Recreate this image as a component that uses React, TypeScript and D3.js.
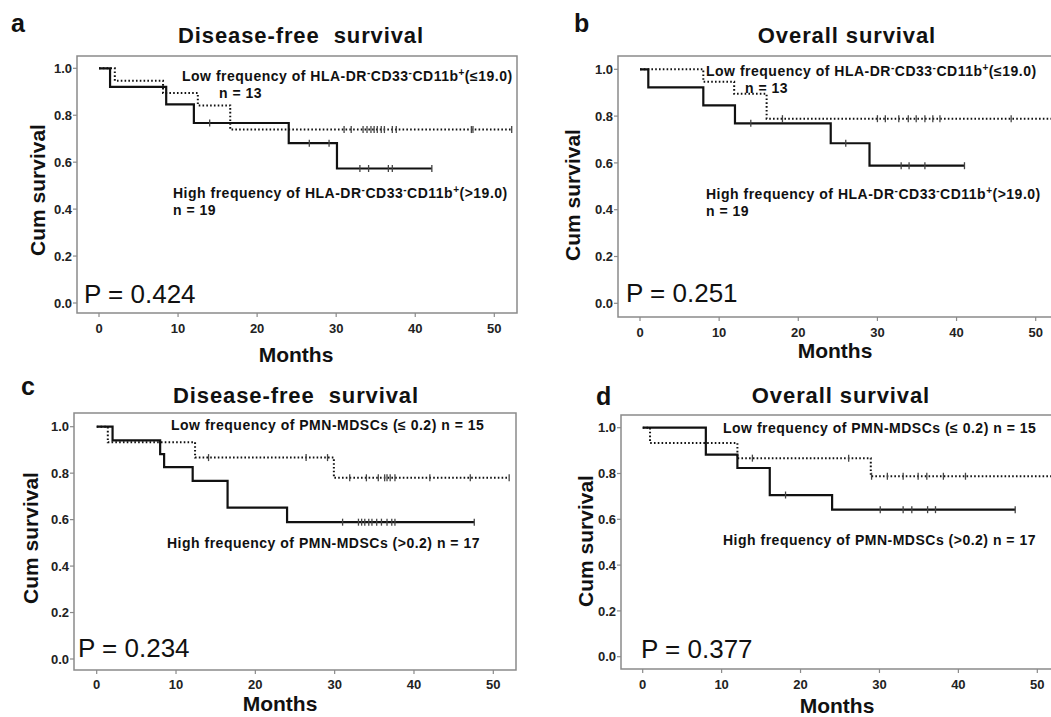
import React from "react";
import * as d3 from "d3";

// ---------- data ----------
const monthTicks = [0, 10, 20, 30, 40, 50];
const survTicks = [0, 0.2, 0.4, 0.6, 0.8, 1.0];

// panel a – Disease-free survival (HLA-DR-CD33-CD11b+)
const aSolidTimes = [1.4, 8.5, 12.0, 24.0, 30.1];
const aSolidSurv = [0.921, 0.846, 0.767, 0.681, 0.573];
const aSolidCensor = [14.0, 26.6, 29.1, 33.0, 34.1, 36.6, 37.1, 42.1];
const aSolidEnd = 42.1;
const aDotTimes = [2.0, 8.1, 12.5, 16.6];
const aDotSurv = [0.947, 0.895, 0.842, 0.739];
const aDotCensor = [31.0, 31.9, 33.4, 33.9, 34.4, 34.8, 35.2, 35.7, 36.1, 37.1, 37.6, 47.1, 47.3, 52.2];
const aDotEnd = 52.2;

// panel b – Overall survival (HLA-DR-CD33-CD11b+)
const bSolidTimes = [1.05, 8.0, 12.0, 24.1, 29.0];
const bSolidSurv = [0.923, 0.846, 0.769, 0.684, 0.588];
const bSolidCensor = [14.0, 26.0, 33.0, 34.0, 36.0, 41.0];
const bSolidEnd = 41.0;
const bDotTimes = [8.0, 11.9, 16.0];
const bDotSurv = [0.947, 0.895, 0.789];
const bDotCensor = [18.0, 30.0, 31.0, 32.7, 33.9, 34.9, 36.0, 37.0, 37.9, 46.9, 52.5];
const bDotEnd = 52.5;

// panel c – Disease-free survival (PMN-MDSCs)
const cSolidTimes = [2.0, 8.0, 8.5, 12.1, 16.5, 24.0];
const cSolidSurv = [0.941, 0.882, 0.826, 0.767, 0.652, 0.589];
const cSolidCensor = [31.0, 33.0, 33.4, 33.8, 34.3, 34.7, 35.3, 35.9, 36.6, 37.2, 37.6, 47.6];
const cSolidEnd = 47.6;
const cDotTimes = [1.4, 12.4, 29.9];
const cDotSurv = [0.933, 0.867, 0.78];
const cDotCensor = [14.1, 26.4, 29.1, 31.9, 34.0, 35.5, 36.3, 36.6, 37.0, 37.6, 42.0, 47.1, 52.0];
const cDotEnd = 52.0;

// panel d – Overall survival (PMN-MDSCs)
const dSolidTimes = [8.0, 12.0, 16.1, 24.0];
const dSolidSurv = [0.882, 0.824, 0.706, 0.642];
const dSolidCensor = [18.1, 30.1, 33.0, 34.1, 36.1, 37.1, 47.2];
const dSolidEnd = 47.2;
const dDotTimes = [0.93, 12.0, 28.9];
const dDotSurv = [0.933, 0.867, 0.788];
const dDotCensor = [13.9, 26.1, 29.0, 31.0, 33.0, 34.9, 36.0, 38.1, 40.9, 53.0];
const dDotEnd = 53.0;

const hlaLow: [string, boolean][] = [["Low frequency of HLA-DR", false], ["-", true], ["CD33", false], ["-", true], ["CD11b", false], ["+", true], ["(\u226419.0)", false]];
const hlaHigh: [string, boolean][] = [["High frequency of HLA-DR", false], ["-", true], ["CD33", false], ["-", true], ["CD11b", false], ["+", true], ["(>19.0)", false]];
const pmnLow: [string, boolean][] = [["Low frequency of PMN-MDSCs (\u2264 0.2) n = 15", false]];
const pmnHigh: [string, boolean][] = [["High frequency of PMN-MDSCs (>0.2) n = 17", false]];

// ---------- layout ----------
type Curve = { times: number[]; surv: number[]; censor: number[]; end: number; dotted: boolean };
type Label = { x: number; y: number; parts: [string, boolean][] };
type Panel = {
  letter: string; lx: number; ly: number;
  title: string; tx: number; ty: number;
  frame: { l: number; t: number; r: number; b: number };
  x0: number; x50: number; y1: number; y0: number;
  curves: Curve[];
  labels: Label[];
  p: string; px: number; py: number;
  ylx: number; yly: number;
  mx: number; my: number; tickDy: number;
};

const panels: Panel[] = [
  {
    letter: "a", lx: 11, ly: 32, title: "Disease-free  survival", tx: 301, ty: 43,
    frame: { l: 77, t: 56, r: 517, b: 313 }, x0: 99, x50: 494.3, y1: 68.3, y0: 303,
    curves: [
      { times: aDotTimes, surv: aDotSurv, censor: aDotCensor, end: aDotEnd, dotted: true },
      { times: aSolidTimes, surv: aSolidSurv, censor: aSolidCensor, end: aSolidEnd, dotted: false },
    ],
    labels: [
      { x: 182, y: 81, parts: hlaLow },
      { x: 219, y: 98, parts: [["n = 13", false]] },
      { x: 173, y: 198, parts: hlaHigh },
      { x: 173, y: 215, parts: [["n = 19", false]] },
    ],
    p: "P = 0.424", px: 84, py: 303, ylx: 37, yly: 190, mx: 296, my: 362, tickDy: 20,
  },
  {
    letter: "b", lx: 574, ly: 32, title: "Overall survival", tx: 847, ty: 43,
    frame: { l: 618, t: 56, r: 1062, b: 317 }, x0: 640, x50: 1035.7, y1: 69.3, y0: 303.3,
    curves: [
      { times: bDotTimes, surv: bDotSurv, censor: bDotCensor, end: bDotEnd, dotted: true },
      { times: bSolidTimes, surv: bSolidSurv, censor: bSolidCensor, end: bSolidEnd, dotted: false },
    ],
    labels: [
      { x: 706, y: 76, parts: hlaLow },
      { x: 745, y: 93, parts: [["n = 13", false]] },
      { x: 706, y: 199, parts: hlaHigh },
      { x: 706, y: 216, parts: [["n = 19", false]] },
    ],
    p: "P = 0.251", px: 626, py: 302, ylx: 572, yly: 195, mx: 835, my: 358, tickDy: 20,
  },
  {
    letter: "c", lx: 21, ly: 395, title: "Disease-free  survival", tx: 296, ty: 403,
    frame: { l: 74, t: 413, r: 516, b: 670 }, x0: 96.7, x50: 493.3, y1: 426.7, y0: 659,
    curves: [
      { times: cDotTimes, surv: cDotSurv, censor: cDotCensor, end: cDotEnd, dotted: true },
      { times: cSolidTimes, surv: cSolidSurv, censor: cSolidCensor, end: cSolidEnd, dotted: false },
    ],
    labels: [
      { x: 171, y: 430, parts: pmnLow },
      { x: 167, y: 548, parts: pmnHigh },
    ],
    p: "P = 0.234", px: 78, py: 657, ylx: 30, yly: 538, mx: 280, my: 711, tickDy: 18.5,
  },
  {
    letter: "d", lx: 596, ly: 405, title: "Overall survival", tx: 841, ty: 403,
    frame: { l: 621, t: 415, r: 1062, b: 669 }, x0: 642.7, x50: 1037.3, y1: 427.7, y0: 656.7,
    curves: [
      { times: dDotTimes, surv: dDotSurv, censor: dDotCensor, end: dDotEnd, dotted: true },
      { times: dSolidTimes, surv: dSolidSurv, censor: dSolidCensor, end: dSolidEnd, dotted: false },
    ],
    labels: [
      { x: 723, y: 433, parts: pmnLow },
      { x: 723, y: 545, parts: pmnHigh },
    ],
    p: "P = 0.377", px: 641, py: 658, ylx: 585, yly: 541, mx: 837, my: 713, tickDy: 20,
  },
];

const FONT = "'Liberation Sans', Arial, Helvetica, sans-serif";

function survAt(c: Curve, t: number) {
  let s = 1;
  for (let i = 0; i < c.times.length; i++) if (c.times[i] <= t) s = c.surv[i];
  return s;
}

function RichText({ x, y, parts }: Label) {
  return (
    <text x={x} y={y} fontFamily={FONT} fontWeight="bold" fontSize={14} letterSpacing={0.5} fill="#111">
      {parts.map(([t, sup], i) =>
        sup ? (
          <tspan key={i} fontSize={10} dy={-5}>{t}</tspan>
        ) : (
          <tspan key={i} dy={i > 0 && parts[i - 1][1] ? 5 : 0}>{t}</tspan>
        )
      )}
    </text>
  );
}

function PanelView({ p }: { p: Panel }) {
  const x = d3.scaleLinear().domain([0, 50]).range([p.x0, p.x50]);
  const y = d3.scaleLinear().domain([0, 1]).range([p.y0, p.y1]);
  const f = p.frame;
  const line = d3
    .line<[number, number]>()
    .x((d) => x(d[0]))
    .y((d) => y(d[1]))
    .curve(d3.curveStepAfter);
  const clipId = `clip-${p.letter}`;
  return (
    <g>
      <defs>
        <clipPath id={clipId}>
          <rect x={f.l} y={f.t} width={f.r - f.l} height={f.b - f.t} />
        </clipPath>
      </defs>
      <text x={p.lx} y={p.ly} fontFamily={FONT} fontWeight="bold" fontSize={25} fill="#111">{p.letter}</text>
      <text x={p.tx} y={p.ty} textAnchor="middle" fontFamily={FONT} fontWeight="bold" fontSize={22} letterSpacing={0.9} fill="#111" style={{ whiteSpace: "pre" }}>{p.title}</text>
      <rect x={f.l} y={f.t} width={f.r - f.l} height={f.b - f.t} fill="none" stroke="#8a8a8a" strokeWidth={1.5} />
      {survTicks.map((t) => (
        <g key={"y" + t}>
          <line x1={f.l - 4} x2={f.l} y1={y(t)} y2={y(t)} stroke="#8a8a8a" strokeWidth={1.2} />
          <text x={f.l - 5} y={y(t)} dy="0.36em" textAnchor="end" fontFamily={FONT} fontWeight="bold" fontSize={13} fill="#222">{t.toFixed(1)}</text>
        </g>
      ))}
      {monthTicks.map((t) => (
        <g key={"x" + t}>
          <line x1={x(t)} x2={x(t)} y1={f.b} y2={f.b + 4} stroke="#8a8a8a" strokeWidth={1.2} />
          <text x={x(t)} y={f.b + p.tickDy} textAnchor="middle" fontFamily={FONT} fontWeight="bold" fontSize={13} fill="#222">{t}</text>
        </g>
      ))}
      <text transform={`translate(${p.ylx},${p.yly}) rotate(-90)`} textAnchor="middle" dy="0.36em" fontFamily={FONT} fontWeight="bold" fontSize={21} fill="#111">Cum survival</text>
      <text x={p.mx} y={p.my} textAnchor="middle" fontFamily={FONT} fontWeight="bold" fontSize={21} fill="#111">Months</text>
      <g clipPath={`url(#${clipId})`}>
        {p.curves.map((c, ci) => {
          const pts: [number, number][] = [[0, 1]];
          c.times.forEach((t, i) => pts.push([t, c.surv[i]]));
          pts.push([c.end, c.surv[c.surv.length - 1]]);
          return (
            <g key={ci}>
              <path
                d={line(pts) || ""}
                fill="none"
                stroke="#111"
                strokeWidth={c.dotted ? 2 : 2.2}
                strokeDasharray={c.dotted ? "1.6 2.2" : undefined}
              />
              {c.censor.map((t, i) => (
                <line key={i} x1={x(t)} x2={x(t)} y1={y(survAt(c, t)) - 3.5} y2={y(survAt(c, t)) + 3.5} stroke="#444" strokeWidth={1.3} />
              ))}
            </g>
          );
        })}
      </g>
      {p.labels.map((l, i) => (
        <RichText key={i} {...l} />
      ))}
      <text x={p.px} y={p.py} fontFamily={FONT} fontSize={26} fill="#111">{p.p}</text>
    </g>
  );
}

export default function App() {
  return (
    <svg width={1051} height={717} style={{ position: "absolute", left: 0, top: 0, background: "#fff" }}>
      <rect x={0} y={0} width={1051} height={717} fill="#fff" />
      {panels.map((p) => (
        <PanelView key={p.letter} p={p} />
      ))}
    </svg>
  );
}
